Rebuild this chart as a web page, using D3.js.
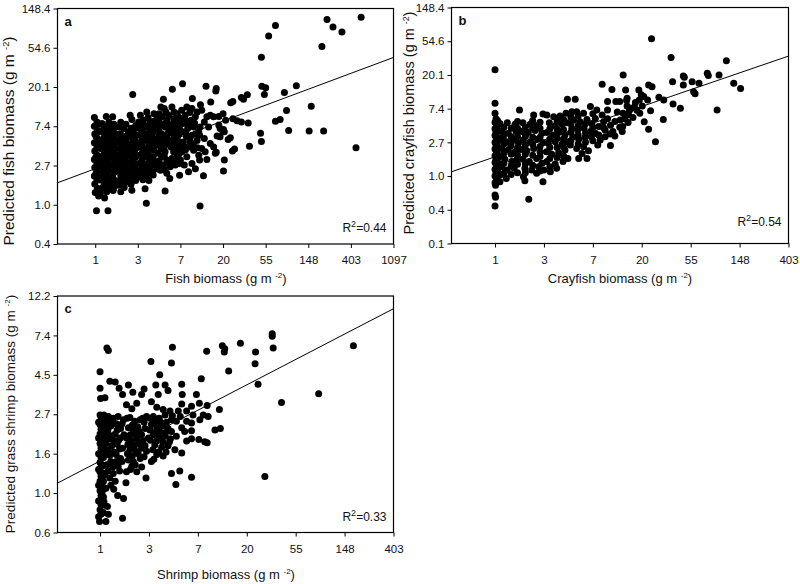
<!DOCTYPE html>
<html>
<head>
<meta charset="utf-8">
<script src="https://cdn.jsdelivr.net/npm/d3@7"></script>
<style>
  body { margin: 0; background: #fff; }
  svg { display: block; }
  text { font-family: "Liberation Sans", Arial, sans-serif; fill: #111; }
</style>
</head>
<body>
<svg id="chart" width="800" height="584"></svg>
<script>
// ---- Data (natural-log units: ln observed biomass, ln predicted biomass) ----
const fishPoints = [
 [6.24,4.78],[5.44,4.72],[5.58,4.53],[5.79,4.40],[5.32,4.03],[4.23,4.57],[4.07,4.30],[3.90,3.76],[6.12,1.45],[5.36,1.88],
 [5.02,1.88],[5.07,2.51],[4.72,3.03],[4.44,2.86],[4.49,2.40],[4.54,1.89],[4.34,2.17],[4.23,2.13],[3.91,3.02],[4.00,2.98],
 [3.97,2.81],[3.88,1.82],[3.90,1.61],[3.62,1.49],[3.57,2.80],[3.43,2.73],[3.48,2.69],[3.23,2.63],[3.18,2.60],[3.43,2.11],
 [3.59,2.08],[3.23,2.19],[3.33,2.14],[3.01,1.92],[2.99,1.88],[3.22,1.37],[3.27,1.42],[3.17,1.71],[3.12,1.66],[3.03,1.14],
 [3.01,0.86],[2.84,1.34],[2.84,2.96],[2.83,2.90],[2.60,3.02],[2.71,2.62],[2.47,2.55],[2.28,2.71],[2.05,3.08],[1.81,2.94],
 [1.60,2.69],[0.88,2.81],[2.46,-0.03],[1.20,0.04],[1.64,0.35],[0.03,-0.15],[0.30,-0.15],[1.26,0.62],[1.98,0.75],[1.75,0.67],
 [2.54,0.74],[1.17,0.41],[0.86,0.37],[0.60,0.33],[0.42,0.36],[0.22,0.17],[0.12,0.29],
 [2.62,2.24],[2.70,2.28],[2.78,2.24],[2.50,2.41],[2.56,2.11],[2.46,1.98],[2.66,1.98],[2.90,2.03],[2.93,1.94],[2.86,1.75],
 [2.93,1.73],[3.03,1.86],[2.90,2.25],[3.00,2.32],[3.06,2.15],[2.45,1.77],[2.56,1.69],[2.70,1.56],[2.78,1.47],[2.50,1.43],
 [2.58,1.35],[2.82,1.31],[2.45,1.14],[2.62,1.15],
 [2.03,2.41],[2.15,2.49],[2.27,2.45],[2.39,2.36],[2.11,2.28],[2.25,2.15],[2.35,2.24],[2.06,2.07],[2.17,1.94],[2.31,1.98],
 [2.43,1.86],[2.03,1.86],[2.14,1.73],[2.27,1.77],[2.39,1.64],[2.07,1.60],[2.19,1.47],[2.31,1.39],[2.03,1.35],[2.15,1.22],
 [2.27,1.05],[2.09,1.01],[2.35,0.92],[2.19,0.84],[2.06,1.51],[2.43,1.26],[2.23,1.60],
 [1.54,2.49],[1.66,2.36],[1.80,2.49],[1.92,2.32],[1.56,2.24],[1.68,2.15],[1.84,2.19],[1.96,2.11],[1.53,2.03],[1.64,1.98],
 [1.76,1.94],[1.88,1.98],[2.00,1.90],[1.56,1.81],[1.68,1.77],[1.82,1.81],[1.93,1.73],[1.51,1.64],[1.62,1.60],[1.74,1.64],
 [1.88,1.56],[1.98,1.60],[1.54,1.43],[1.64,1.35],[1.84,1.35],[1.96,1.39],[1.56,1.22],[1.68,1.14],[1.80,1.18],[1.92,1.22],
 [1.60,1.01],[1.76,0.97],[1.88,1.01],[1.53,0.88],[1.68,0.80],[2.00,1.14],[1.78,1.47],
 [1.06,2.28],[1.21,2.36],[1.38,2.32],[1.45,2.19],[1.02,2.11],[1.13,2.15],[1.29,2.11],[1.41,2.03],[1.04,1.94],[1.17,1.98],
 [1.28,1.90],[1.37,1.86],[1.49,1.90],[1.06,1.77],[1.21,1.81],[1.33,1.73],[1.45,1.69],[1.10,1.60],[1.20,1.64],[1.31,1.56],
 [1.42,1.52],[1.02,1.47],[1.13,1.41],[1.25,1.35],[1.37,1.39],[1.48,1.31],[1.06,1.26],[1.17,1.22],[1.29,1.15],[1.41,1.09],
 [1.04,1.05],[1.15,1.01],[1.28,0.97],[1.45,0.92],[1.10,0.84],[1.21,0.80],[1.35,0.84],[1.02,0.71],[1.12,0.64],
 [0.55,1.98],[0.67,1.94],[0.78,1.86],[0.90,1.90],[0.82,2.28],[0.86,2.17],[0.59,1.81],[0.73,1.75],[0.86,1.71],[0.96,1.77],
 [0.52,1.64],[0.63,1.58],[0.76,1.54],[0.88,1.58],[0.98,1.52],[0.57,1.43],[0.68,1.37],[0.81,1.41],[0.92,1.35],[0.51,1.26],
 [0.63,1.20],[0.74,1.24],[0.86,1.15],[0.96,1.22],[0.55,1.05],[0.68,1.01],[0.81,1.05],[0.92,0.97],[0.52,0.86],[0.65,0.81],
 [0.78,0.84],[0.90,0.75],[0.59,0.64],[0.73,0.58],[0.86,0.63],[0.55,0.50],[0.68,0.44],[0.98,0.88],
 [0.26,2.25],[0.41,2.24],[0.16,2.07],[0.29,2.00],[0.43,1.94],[0.12,1.86],[0.23,1.81],[0.35,1.77],[0.47,1.81],[0.16,1.64],
 [0.27,1.60],[0.39,1.56],[0.49,1.60],[0.12,1.43],[0.21,1.39],[0.34,1.35],[0.45,1.41],[0.16,1.22],[0.27,1.18],[0.39,1.22],
 [0.49,1.14],[0.12,1.01],[0.23,0.97],[0.35,1.01],[0.47,0.92],[0.18,0.80],[0.29,0.75],[0.41,0.71],[0.12,0.63],[0.23,0.56],
 [0.35,0.50],[0.47,0.58],[0.16,0.42],[0.27,0.33],[0.43,0.42],
 [-0.02,2.22],[0.04,2.11],[-0.02,2.00],[0.05,1.90],[-0.01,1.80],[0.05,1.69],[-0.02,1.58],[0.04,1.47],[-0.01,1.37],[0.05,1.26],
 [-0.02,1.15],[0.04,1.05],[-0.01,0.95],[0.05,0.84],[-0.02,0.73],[0.04,0.63],[-0.01,0.53],[0.05,0.42],[0.00,0.31],[0.08,0.22],
 [0.02,1.73],[0.02,1.22],[0.02,0.80],[0.08,1.56],[0.08,0.97],
 [0.07,2.05],[0.07,1.62],[0.07,1.10],[0.07,0.68],
 [0.20,1.95],[0.20,1.70],[0.20,1.50],[0.20,1.28],[0.20,1.08],[0.20,0.88],[0.20,0.68],[0.20,0.48],
 [0.32,2.10],[0.32,1.88],[0.32,1.66],[0.32,1.45],[0.32,1.27],[0.32,1.08],[0.32,0.88],[0.32,0.62],[0.32,0.42],
 [0.44,2.05],[0.44,1.70],[0.44,1.50],[0.44,1.30],[0.44,1.06],[0.44,0.82],[0.44,0.64],
 [0.60,2.10],[0.60,1.72],[0.60,1.52],[0.60,1.33],[0.60,1.12],[0.60,0.95],[0.60,0.74],[0.60,0.55],
 [0.72,2.05],[0.72,1.64],[0.72,1.46],[0.72,1.30],[0.72,1.10],[0.72,0.91],[0.72,0.70],
 [0.84,1.95],[0.84,1.78],[0.84,1.48],[0.84,1.29],[0.84,0.92],[0.84,0.74],[0.84,0.52],
 [0.95,2.02],[0.95,1.62],[0.95,1.44],[0.95,1.05],[0.95,0.82],[0.95,0.62],
 [1.10,2.05],[1.10,1.88],[1.10,1.70],[1.10,1.50],[1.10,1.32],[1.10,1.12],[1.10,0.93],[1.10,0.74],
 [1.24,2.22],[1.24,2.02],[1.24,1.72],[1.24,1.48],[1.24,1.26],[1.24,1.06],[1.24,0.88],[1.24,0.70],
 [1.36,2.12],[1.36,1.95],[1.36,1.63],[1.36,1.48],[1.36,1.22],[1.36,1.02],[1.36,0.76],
 [1.50,2.32],[1.50,2.12],[1.50,1.75],[1.50,1.52],[1.50,1.12],[1.50,0.97],
 [1.62,2.45],[1.62,2.05],[1.62,1.70],[1.62,1.48],[1.62,1.25],[1.62,0.90],
 [1.72,2.28],[1.72,2.05],[1.72,1.85],[1.72,1.55],[1.72,1.06],
 [1.85,2.36],[1.85,2.08],[1.85,1.88],[1.85,1.68],[1.85,1.45],[1.85,1.10],
 [1.97,2.22],[1.97,2.00],[1.97,1.80],[1.97,1.50],[1.97,1.30],[1.97,1.05],
 [2.10,2.18],[2.22,2.35],[2.20,2.05],[2.33,2.08],[2.12,1.85],[2.35,1.80],[2.22,1.70],[2.12,1.40],[2.30,1.55],[2.40,1.45]
];
const crayfishPoints = [
 [3.20,4.07],[3.60,3.52],[4.73,3.42],[4.88,2.75],[5.02,2.60],[4.58,3.00],[4.34,3.05],[4.36,2.98],[4.03,2.80],[4.17,2.75],
 [4.06,2.50],[4.09,2.44],[3.85,2.97],[3.87,2.93],[3.85,2.70],[3.63,2.80],[3.64,2.14],[3.79,2.01],[4.54,1.96],[3.28,1.02],
 [3.14,2.70],[3.21,2.65],[3.12,2.26],[3.04,2.36],[3.35,2.34],[3.45,2.26],[3.44,1.68],[3.18,1.94],[3.05,1.61],[3.14,1.39],
 [2.94,2.55],[2.99,2.41],[2.95,2.26],[2.96,1.86],[3.01,2.08],[2.62,3.00],[2.67,2.55],[2.70,2.31],[2.69,2.24],[2.78,2.01],
 [2.82,1.74],[2.61,1.47],[2.72,1.59],[2.55,2.21],
 [2.62,1.86],[2.73,1.81],[2.56,1.66],[2.70,2.08],[2.87,2.18],[2.60,1.32],
 [2.08,1.96],[2.19,1.81],[2.30,1.96],[2.19,2.72],[2.39,2.57],[2.30,2.21],[2.47,2.21],[2.05,1.71],[2.22,1.61],[2.36,1.51],
 [2.12,1.47],[2.25,1.37],[2.41,1.32],[2.05,1.27],[2.12,1.22],[2.25,1.17],[2.45,1.19],[2.10,0.92],[2.36,0.91],[2.22,1.43],
 [2.15,1.07],
 [1.57,1.91],[1.67,1.91],[1.81,1.86],[1.95,2.06],[1.48,2.28],[1.64,2.28],[1.61,1.66],[1.74,1.61],[1.88,1.68],[1.98,1.56],
 [1.57,1.42],[1.69,1.37],[1.82,1.42],[1.95,1.32],[1.59,1.17],[1.71,1.09],[1.84,1.15],[1.97,1.17],[1.54,0.92],[1.67,0.82],
 [1.81,0.87],[1.91,0.75],[1.71,0.52],[1.88,0.52],[1.78,0.67],
 [1.06,1.81],[1.11,1.58],[1.23,1.49],[1.37,1.54],[1.47,1.58],[1.20,1.76],[1.33,1.78],[1.45,1.86],[1.06,1.29],[1.18,1.22],
 [1.30,1.29],[1.43,1.22],[1.09,0.97],[1.23,1.02],[1.37,0.95],[1.47,1.02],[1.05,0.72],[1.16,0.65],[1.30,0.69],[1.43,0.77],
 [1.06,0.43],[1.23,0.36],[1.39,0.43],[1.49,0.52],[1.00,0.18],[1.13,0.13],[1.26,0.23],
 [0.57,1.58],[0.72,1.54],[0.85,1.49],[0.79,1.81],[0.98,1.84],[0.55,1.32],[0.68,1.29],[0.82,1.35],[0.96,1.27],[0.58,1.07],
 [0.72,1.02],[0.87,1.09],[0.98,0.99],[0.53,0.79],[0.65,0.75],[0.79,0.82],[0.92,0.72],[0.57,0.50],[0.70,0.43],[0.85,0.52],
 [0.96,0.38],[0.61,0.23],[0.75,0.18],[0.89,0.28],[0.61,-0.14],[0.58,-0.02],[0.98,-0.17],[0.69,-0.69],[0.85,0.08],
 [0.10,1.56],[0.25,1.58],[0.41,1.54],[0.14,1.32],[0.27,1.27],[0.43,1.32],[0.10,1.07],[0.23,1.02],[0.38,1.07],[0.48,0.97],
 [0.14,0.82],[0.27,0.77],[0.41,0.72],[0.09,0.57],[0.20,0.50],[0.34,0.43],[0.44,0.48],[0.14,0.28],[0.25,0.18],[0.39,0.23],
 [0.10,0.03],[0.23,-0.07],[0.10,-0.17],[0.50,1.96],[0.17,1.17],[0.32,0.89],[0.07,0.38],
 [0.00,3.15],[0.00,2.16],[0.00,1.86],[0.02,1.70],[0.00,1.60],[0.03,1.50],[0.00,1.40],[0.02,1.30],[0.00,1.20],[0.03,1.10],
 [0.00,1.00],[0.02,0.90],[0.00,0.80],[0.03,0.70],[0.00,0.60],[0.02,0.50],[0.00,0.40],[0.03,0.30],[0.00,0.20],[0.02,0.10],
 [0.00,0.00],[0.03,-0.10],[0.00,-0.20],[0.01,-0.27],[0.00,-0.56],[0.01,-0.63],[0.00,-0.89],[0.04,1.45],[0.04,0.95],[0.04,0.45],
 [0.05,1.65],[0.05,1.35],[0.05,1.15],[0.05,0.85],[0.05,0.65],[0.05,0.35],[0.05,0.15],[0.05,-0.05],
 [0.18,1.45],[0.18,1.25],[0.18,0.95],[0.18,0.68],[0.18,0.38],[0.18,0.08],
 [0.33,1.42],[0.33,1.17],[0.33,0.98],[0.33,0.65],[0.33,0.30],[0.33,0.05],
 [0.46,1.62],[0.46,1.42],[0.46,1.17],[0.46,0.85],[0.46,0.62],[0.46,0.35],[0.46,0.10],
 [0.62,1.45],[0.62,1.18],[0.62,0.92],[0.62,0.65],[0.62,0.36],[0.62,0.10],
 [0.77,1.65],[0.77,1.42],[0.77,1.15],[0.77,0.95],[0.77,0.62],[0.77,0.32],
 [0.92,1.60],[0.92,1.42],[0.92,1.15],[0.92,0.88],[0.92,0.58],[0.92,0.15],
 [1.12,1.40],[1.12,1.10],[1.12,0.85],[1.12,0.52],[1.12,0.28],
 [1.27,1.62],[1.27,1.38],[1.27,1.12],[1.27,0.85],[1.27,0.55],
 [1.40,1.68],[1.40,1.38],[1.40,1.10],[1.40,0.86],[1.40,0.60],
 [1.55,1.75],[1.55,1.55],[1.55,1.30],[1.55,1.05],
 [1.70,1.78],[1.70,1.50],[1.70,1.22],[1.70,0.95],
 [1.85,1.55],[1.85,1.28],[1.85,1.00],
 [2.00,1.85],[2.00,1.45],[2.00,1.05],
 [2.30,1.70],[2.45,1.62],[2.50,1.90],[2.55,1.45],[2.65,1.70],[2.75,1.95],[2.85,2.05],[2.90,1.95],[2.35,1.25]
];
const shrimpPoints = [
 [5.18,1.87],[4.47,1.26],[3.71,1.15],[3.37,0.21],[3.23,1.38],[3.18,1.79],[3.17,1.64],[3.52,2.02],[3.52,1.99],[3.54,1.84],
 [2.87,1.90],[2.50,1.87],[2.54,1.79],[2.55,1.83],[2.63,1.55],[2.44,1.06],[2.35,0.80],[2.46,0.82],[2.18,1.80],[2.07,1.45],
 [2.19,1.11],[2.02,0.68],[2.14,0.65],[2.19,0.64],[2.04,0.93],[2.11,0.99],[2.21,0.97],[2.03,1.14],
 [1.67,1.38],[1.68,1.25],[1.67,1.13],[1.64,0.97],[1.67,0.83],[1.63,0.28],[1.55,0.11],[1.77,1.04],[1.87,1.10],[1.97,1.25],
 [1.56,0.91],[1.73,0.78],[1.87,0.89],[1.87,0.79],[1.87,0.69],[1.77,0.66],[1.56,0.72],[1.67,0.51],[1.87,0.20],[1.60,1.04],
 [1.53,0.55],[1.77,0.91],[1.90,0.99],
 [1.04,1.67],[1.22,1.50],[1.33,1.37],[1.39,1.30],[1.14,1.37],[1.19,1.25],[1.05,1.16],[1.16,1.09],[1.29,1.06],[1.43,1.04],
 [1.09,0.97],[1.21,0.95],[1.33,0.99],[1.46,0.93],[1.05,0.87],[1.16,0.83],[1.28,0.85],[1.39,0.82],[1.09,0.74],[1.21,0.71],
 [1.33,0.72],[1.44,0.69],[1.12,0.61],[1.26,0.58],[1.39,0.60],[1.16,0.49],[1.29,0.47],[1.46,0.25],[1.05,0.40],[1.48,1.85],
 [1.46,1.65],
 [0.54,1.12],[0.65,1.07],[0.58,1.37],[0.67,1.28],[0.75,1.14],[0.85,1.25],[0.90,1.32],[0.87,0.95],[0.61,0.96],[0.71,0.91],
 [0.82,0.93],[0.95,0.97],[0.58,0.83],[0.68,0.80],[0.80,0.78],[0.92,0.82],[0.54,0.70],[0.65,0.66],[0.76,0.69],[0.88,0.66],
 [0.99,0.70],[0.61,0.55],[0.73,0.53],[0.85,0.57],[0.95,0.53],[0.58,0.42],[0.68,0.40],[0.82,0.44],[0.94,0.19],[0.75,0.27],
 [0.54,0.27],[0.65,0.34],[0.85,0.33],
 [0.14,1.84],[0.17,1.81],[0.20,1.42],[0.31,1.41],[0.39,1.33],[0.46,1.25],[0.10,1.21],[0.08,0.99],[0.17,0.97],[0.27,0.95],
 [0.37,0.97],[0.48,0.93],[0.12,0.87],[0.22,0.85],[0.33,0.88],[0.42,0.82],[0.10,0.76],[0.20,0.73],[0.31,0.75],[0.41,0.70],
 [0.49,0.74],[0.12,0.63],[0.24,0.60],[0.35,0.62],[0.46,0.57],[0.10,0.51],[0.20,0.48],[0.33,0.49],[0.42,0.44],[0.14,0.36],
 [0.26,0.33],[0.37,0.34],[0.10,0.23],[0.20,0.19],[0.31,0.15],[0.12,0.06],[0.36,-0.03],[0.48,-0.07],[0.53,0.13],[0.17,-0.27],
 [0.12,-0.36],[0.46,-0.32],[0.08,-0.11],[0.15,-0.17],
 [0.00,1.54],[0.00,1.33],[0.01,1.20],[0.00,0.99],[0.02,0.93],[0.00,0.87],[0.02,0.81],[0.00,0.75],[0.02,0.69],[0.00,0.63],
 [0.02,0.57],[0.00,0.51],[0.02,0.45],[0.00,0.39],[0.02,0.33],[0.00,0.27],[0.02,0.21],[0.00,0.15],[0.02,0.09],[0.00,0.03],
 [0.02,-0.03],[0.00,-0.09],[0.02,-0.15],[0.00,-0.21],[0.02,-0.27],[-0.01,-0.36],[0.04,0.96],[0.04,0.84],[0.04,0.72],[0.04,0.60],
 [0.04,0.48],[0.04,0.36],[0.04,0.24],[0.04,0.12],[0.04,0.00],[0.04,-0.12],[0.04,-0.24],
 [0.07,0.95],[0.07,0.85],[0.07,0.75],[0.07,0.65],[0.07,0.55],[0.07,0.45],[0.07,0.35],[0.07,0.25],[0.07,0.15],[0.07,0.05],
 [0.07,-0.05],[0.07,-0.15],[0.07,-0.25],
 [-0.03,0.90],[-0.03,0.70],[-0.03,0.50],[-0.03,0.30],[-0.03,0.10],[-0.03,-0.10],[-0.03,-0.30],
 [0.15,0.92],[0.25,0.90],[0.35,0.80],[0.45,0.88],[0.16,0.80],[0.26,0.68],[0.38,0.67],[0.15,0.68],[0.28,0.52],[0.40,0.56],
 [0.16,0.55],[0.22,0.40],[0.33,0.40],[0.45,0.40],[0.16,0.28],[0.27,0.25],[0.40,0.28],[0.22,0.10],[0.28,0.05],
 [0.55,0.95],[0.66,0.86],[0.77,0.84],[0.90,0.90],[0.62,0.74],[0.72,0.74],[0.85,0.74],[0.57,0.62],[0.70,0.60],[0.80,0.62],
 [0.92,0.60],[0.56,0.50],[0.66,0.47],[0.78,0.50],[0.90,0.46],[0.62,0.30],[0.72,0.36],
 [1.02,0.95],[1.12,0.90],[1.24,0.90],[1.36,0.90],[1.48,0.98],[1.02,0.80],[1.12,0.77],[1.22,0.78],[1.34,0.77],[1.46,0.78],
 [1.03,0.67],[1.15,0.66],[1.28,0.65],[1.42,0.65],[1.08,0.55],[1.20,0.52],[1.35,0.52],[1.10,0.43]
];

// Fitted regression lines (ln space)
const fishFit = [0.918, 0.405];      // [intercept, slope]
const crayfishFit = [0.571, 0.498];
const shrimpFit = [0.407, 0.322];

// Tick positions (ln) and labels
const fishXTicks = [0,1,2,3,4,5,6,7];
const fishXLabels = ["1","3","7","20","55","148","403","1097"];
const fishYTicks = [-1,0,1,2,3,4,5];
const fishYLabels = ["0.4","1.0","2.7","7.4","20.1","54.6","148.4"];
const crayXTicks = [0,1,2,3,4,5,6];
const crayXLabels = ["1","3","7","20","55","148","403"];
const crayYTicks = [-2,-1,0,1,2,3,4,5];
const crayYLabels = ["0.1","0.4","1.0","2.7","7.4","20.1","54.6","148.4"];
const shrimpXTicks = [0,1,2,3,4,5,6];
const shrimpXLabels = ["1","3","7","20","55","148","403"];
const shrimpYTicks = [-0.5,0,0.5,1,1.5,2,2.5];
const shrimpYLabels = ["0.6","1.0","1.6","2.7","4.5","7.4","12.2"];

const r2Labels = ["0.44","0.54","0.33"];

const svg = d3.select("#chart");

function panel(cfg) {
  const g = svg.append("g");
  const x = d3.scaleLinear().domain(cfg.xDomain).range([cfg.left, cfg.right]);
  const y = d3.scaleLinear().domain(cfg.yDomain).range([cfg.bottom, cfg.top]);

  // points
  g.append("g").selectAll("circle").data(cfg.points).join("circle")
    .attr("cx", d => x(d[0])).attr("cy", d => y(d[1])).attr("r", 3.5).attr("fill", "#000");

  // fit line
  const [a, b] = cfg.fit;
  const x0 = cfg.xDomain[0], x1 = cfg.xDomain[1];
  g.append("line")
    .attr("x1", x(x0)).attr("y1", y(a + b * x0))
    .attr("x2", x(x1)).attr("y2", y(a + b * x1))
    .attr("stroke", "#000").attr("stroke-width", 1);

  // frame
  g.append("rect").attr("x", cfg.left).attr("y", cfg.top)
    .attr("width", cfg.right - cfg.left).attr("height", cfg.bottom - cfg.top)
    .attr("fill", "none").attr("stroke", "#000").attr("stroke-width", 1.2);

  // axes
  const xa = g.append("g").attr("transform", `translate(0,${cfg.bottom})`)
    .call(d3.axisBottom(x).tickValues(cfg.xTicks).tickFormat((d, i) => cfg.xLabels[i]).tickSize(4).tickSizeOuter(0).tickPadding(8));
  const ya = g.append("g").attr("transform", `translate(${cfg.left},0)`)
    .call(d3.axisLeft(y).tickValues(cfg.yTicks).tickFormat((d, i) => cfg.yLabels[i]).tickSize(4).tickSizeOuter(0).tickPadding(3));
  [xa, ya].forEach(ax => {
    ax.select(".domain").remove();
    ax.selectAll("line").attr("stroke", "#000");
    ax.selectAll("text").style("font-family", '"Liberation Sans", Arial, sans-serif')
      .style("font-size", "11.5px").attr("fill", "#111");
  });

  // panel letter
  g.append("text").attr("x", cfg.left + 7).attr("y", cfg.top + 17)
    .style("font-weight", "bold").style("font-size", "13px").text(cfg.letter);

  // R^2
  const rt = g.append("text").attr("x", cfg.right - 7).attr("y", cfg.bottom - cfg.r2dy)
    .attr("text-anchor", "end").style("font-size", "12px");
  rt.append("tspan").text("R");
  rt.append("tspan").attr("dy", -5).style("font-size", "9px").text("2");
  rt.append("tspan").attr("dy", 5).text("=" + cfg.r2);

  // x title
  const xt = g.append("text").attr("x", cfg.xTitleX).attr("y", cfg.xTitleY)
    .attr("text-anchor", "middle").style("font-size", "13px");
  xt.append("tspan").text(cfg.xTitle + " (g m ");
  xt.append("tspan").attr("dy", -5).style("font-size", "8px").text("-2");
  xt.append("tspan").attr("dy", 5).text(")");

  // y title
  const yt = g.append("text")
    .attr("transform", `translate(${cfg.yTitleX},${cfg.yTitleY}) rotate(-90)`)
    .attr("text-anchor", "middle").style("font-size", cfg.yTitleSize + "px");
  yt.append("tspan").text(cfg.yTitle + " (g m ");
  yt.append("tspan").attr("dy", -5).style("font-size", (cfg.yTitleSize * 0.6) + "px").text("-2");
  yt.append("tspan").attr("dy", 5).text(")");
}

panel({
  points: fishPoints, fit: fishFit, letter: "a", r2: r2Labels[0],
  xDomain: [-0.885, 7], yDomain: [-1, 5],
  left: 57.5, right: 393.5, top: 8.5, bottom: 244,
  xTicks: fishXTicks, xLabels: fishXLabels, yTicks: fishYTicks, yLabels: fishYLabels,
  xTitle: "Fish biomass", xTitleX: 226, xTitleY: 283,
  yTitle: "Predicted fish biomass", yTitleX: 14, yTitleY: 141, yTitleSize: 15.5, r2dy: 12
});
panel({
  points: crayfishPoints, fit: crayfishFit, letter: "b", r2: r2Labels[1],
  xDomain: [-0.89, 6], yDomain: [-2, 5],
  left: 451.5, right: 788.5, top: 7.5, bottom: 243.5,
  xTicks: crayXTicks, xLabels: crayXLabels, yTicks: crayYTicks, yLabels: crayYLabels,
  xTitle: "Crayfish biomass", xTitleX: 620, xTitleY: 283,
  yTitle: "Predicted crayfish biomass", yTitleX: 414, yTitleY: 123, yTitleSize: 14.5, r2dy: 18
});
panel({
  points: shrimpPoints, fit: shrimpFit, letter: "c", r2: r2Labels[2],
  xDomain: [-0.87, 6], yDomain: [-0.5, 2.5],
  left: 57.5, right: 393.5, top: 296, bottom: 532.5,
  xTicks: shrimpXTicks, xLabels: shrimpXLabels, yTicks: shrimpYTicks, yLabels: shrimpYLabels,
  xTitle: "Shrimp biomass", xTitleX: 226, xTitleY: 579,
  yTitle: "Predicted grass shrimp biomass", yTitleX: 15, yTitleY: 414, yTitleSize: 13.5, r2dy: 12
});
</script>
</body>
</html>
